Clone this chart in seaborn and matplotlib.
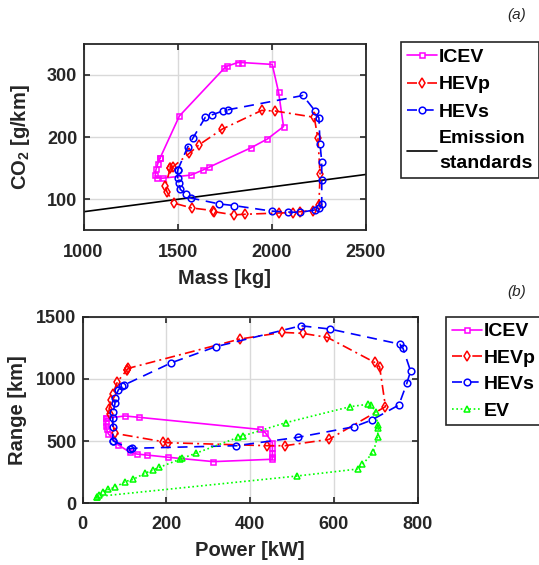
import numpy as np
import pandas as pd
import matplotlib
matplotlib.use("Agg")
import matplotlib.pyplot as plt
import seaborn as sns
from matplotlib.lines import Line2D

sns.set_style("ticks")
plt.rcParams['font.family'] = ['Liberation Sans', 'DejaVu Sans']
plt.rcParams['font.weight'] = 'bold'
plt.rcParams['axes.labelweight'] = 'bold'
plt.rcParams['mathtext.default'] = 'regular'

# ---------------- Data (a): Mass [kg] vs CO2 [g/km] ----------------
icev_a_mass = [1406, 1509, 1748, 1761, 1819, 1843, 2002, 2036, 2062, 1976, 1890, 1669, 1633, 1571, 1420, 1388, 1381, 1385, 1394, 1406]
icev_a_co2 = [166, 234, 311, 314, 320, 320, 317, 272, 217, 197, 183, 152, 147, 139, 134, 135, 139, 148, 157, 166]

hevp_a_mass = [1461, 1474, 1562, 1615, 1737, 1946, 2019, 2225, 2245, 2256, 2250, 2218, 2147, 2112, 2037, 1860, 1798, 1695, 1686, 1576, 1478, 1443, 1434, 1461]
hevp_a_co2 = [150, 152, 174, 188, 213, 243, 242, 232, 198, 140, 91, 82, 80, 78.5, 78, 76, 75, 80, 82, 86, 94, 112, 121, 150]

hevs_a_mass = [1500, 1553, 1580, 1647, 1683, 1739, 1766, 2165, 2230, 2250, 2256, 2265, 2265, 2265, 2250, 2230, 2150, 2086, 2000, 1798, 1722, 1571, 1545, 1514, 1505, 1500, 1500]
hevs_a_co2 = [147, 184, 198, 232, 236, 242, 244, 267, 242, 231, 189, 160, 131, 92, 86, 83, 79, 79.5, 81, 90, 92.5, 102, 108, 116, 127, 135, 147]

std_mass = [1000, 2500]
std_co2 = [80, 140]

# ---------------- Data (b): Power [kW] vs Range [km] ----------------
icev_b_pow = [55, 101, 135, 423, 436, 453, 453, 453, 453, 453, 312, 204, 153, 129, 113, 85, 61, 57, 55, 55, 55]
icev_b_rng = [683, 702, 691, 594, 568, 487, 442, 402, 370, 354, 335, 370, 388, 396, 410, 469, 560, 595, 620, 651, 683]

hevp_b_pow = [105, 109, 375, 477, 525, 584, 697, 709, 723, 588, 483, 440, 203, 192, 77, 66, 63, 68, 72, 83, 105]
hevp_b_rng = [1070, 1085, 1320, 1374, 1366, 1334, 1133, 1098, 777, 514, 463, 463, 487, 495, 562, 720, 760, 830, 880, 977, 1070]

hevs_b_pow = [72, 113, 117, 367, 513, 649, 690, 755, 774, 783, 765, 757, 590, 521, 318, 212, 99, 93, 85, 77, 77, 73, 72, 72, 72]
hevs_b_rng = [503, 437, 442, 463, 530, 616, 669, 790, 964, 1063, 1245, 1280, 1401, 1427, 1259, 1130, 951, 943, 911, 844, 803, 736, 683, 616, 503]

ev_b_pow = [33, 40, 48, 61, 77, 101, 121, 148, 168, 183, 232, 238, 270, 371, 382, 485, 639, 681, 688, 700, 704, 706, 704, 694, 668, 658, 511, 33]
ev_b_rng = [54, 67, 94, 112, 128, 174, 193, 241, 268, 289, 354, 362, 402, 530, 541, 648, 777, 796, 790, 736, 629, 603, 535, 410, 313, 276, 219, 54]

labels_a = ["ICEV", "HEVp", "HEVs", "Emission\nstandards"]
labels_b = ["ICEV", "HEVp", "HEVs", "EV"]

C_ICEV, C_HEVP, C_HEVS, C_EV = "#FF00FF", "#FF0000", "#0000FF", "#00FF00"
TXT = "#262626"
LW = 1.2
DASH = (0, (6, 4))
DASHDOT = (0, (6, 2.5, 1.2, 2.5))
DOT = (0, (1, 1.6))
TICK_FS, LAB_FS, LEG_FS = 13, 14.5, 14

W, H = 539, 565
fig = plt.figure(figsize=(W / 100, H / 100), dpi=100)
ax1 = fig.add_axes([83.5 / W, 1 - 230.4 / H, 282.5 / W, 186.5 / H])
ax2 = fig.add_axes([82.7 / W, 1 - 503.3 / H, 335 / W, 186.6 / H])


def draw(ax, x, y, color, ls, marker, ms, zorder=3):
    sns.lineplot(x=x, y=y, ax=ax, sort=False, estimator=None, color=color,
                 linestyle=ls, linewidth=LW, marker=marker, markersize=ms,
                 markerfacecolor='none', markeredgecolor=color,
                 markeredgewidth=1.1, zorder=zorder)


draw(ax1, icev_a_mass, icev_a_co2, C_ICEV, '-', 's', 3.6)
draw(ax1, hevp_a_mass, hevp_a_co2, C_HEVP, DASHDOT, 'd', 5)
draw(ax1, hevs_a_mass, hevs_a_co2, C_HEVS, DASH, 'o', 4.8)
sns.lineplot(x=std_mass, y=std_co2, ax=ax1, color='black', linewidth=LW, sort=False, estimator=None)

draw(ax2, icev_b_pow, icev_b_rng, C_ICEV, '-', 's', 3.6)
draw(ax2, hevp_b_pow, hevp_b_rng, C_HEVP, DASHDOT, 'd', 5)
draw(ax2, hevs_b_pow, hevs_b_rng, C_HEVS, DASH, 'o', 4.8)
draw(ax2, ev_b_pow, ev_b_rng, C_EV, DOT, '^', 4.8)

ax1.set_xlim(1000, 2500)
ax1.set_ylim(50, 350)
ax1.set_xticks([1000, 1500, 2000, 2500])
ax1.set_yticks([100, 200, 300])
ax1.set_xlabel("Mass [kg]", fontsize=LAB_FS, fontweight='bold', color=TXT)
ax1.set_ylabel(r"CO$_2$ [g/km]", fontsize=LAB_FS, fontweight='bold', color=TXT)
ax1.xaxis.set_label_coords(0.5, (230.4 - 269.5) / 186.5)
ax1.yaxis.set_label_coords((32 - 83.5) / 282.5, 0.5)

ax2.set_xlim(0, 800)
ax2.set_ylim(0, 1500)
ax2.set_xticks([0, 200, 400, 600, 800])
ax2.set_yticks([0, 500, 1000, 1500])
ax2.set_xlabel("Power [kW]", fontsize=LAB_FS, fontweight='bold', color=TXT)
ax2.set_ylabel("Range [km]", fontsize=LAB_FS, fontweight='bold', color=TXT)
ax2.xaxis.set_label_coords(0.5, (503.3 - 541) / 186.6)
ax2.yaxis.set_label_coords((27 - 82.7) / 335, 0.5)

for ax in (ax1, ax2):
    ax.grid(True, color='#d9d9d9', linewidth=1.0)
    ax.set_axisbelow(True)
    ax.tick_params(direction='in', top=True, right=True, length=4, width=1.2,
                   labelsize=TICK_FS, colors=TXT)
    ax.tick_params(axis='x', pad=9.5)
    ax.tick_params(axis='y', pad=4.5)
    for lab in ax.get_xticklabels() + ax.get_yticklabels():
        lab.set_fontweight('bold')
    for s in ax.spines.values():
        s.set_visible(True)
        s.set_linewidth(1.3)
        s.set_color(TXT)

# Legends
def handle(color, ls, marker, ms):
    return Line2D([], [], color=color, linestyle=ls, linewidth=LW, marker=marker,
                  markersize=ms, markerfacecolor='white', markeredgecolor=color,
                  markeredgewidth=1.1)

h_a = [handle(C_ICEV, '-', 's', 3.6), handle(C_HEVP, DASHDOT, 'd', 5),
       handle(C_HEVS, DASH, 'o', 4.8), Line2D([], [], color='black', linewidth=LW)]
h_b = [handle(C_ICEV, '-', 's', 3.6), handle(C_HEVP, DASHDOT, 'd', 5),
       handle(C_HEVS, DASH, 'o', 4.8), handle(C_EV, DOT, '^', 4.8)]

base_kw = dict(frameon=True, fancybox=False, framealpha=1, edgecolor=TXT,
               prop={'weight': 'bold', 'size': LEG_FS}, handlelength=1.55,
               handletextpad=0.1, borderaxespad=0, numpoints=1)
leg1 = fig.legend(h_a, labels_a, loc='upper left',
                  bbox_to_anchor=(400.7 / W, 1 - 42 / H),
                  borderpad=0.33, labelspacing=0.5, **base_kw)
leg2 = fig.legend(h_b, labels_b, loc='upper left',
                  bbox_to_anchor=(446 / W, 1 - 317 / H),
                  borderpad=0.3, labelspacing=0.45, **base_kw)
for leg in (leg1, leg2):
    leg.get_frame().set_linewidth(1.2)
    for t in leg.get_texts():
        t.set_color('black')
        t.set_linespacing(1.55)

fig.text(517 / W, 1 - 15 / H, "(a)", fontsize=11, style='italic', fontweight='normal',
         ha='center', va='center', color=TXT)
fig.text(517 / W, 1 - 292 / H, "(b)", fontsize=11, style='italic', fontweight='normal',
         ha='center', va='center', color=TXT)

fig.savefig("out.png", dpi=100)
